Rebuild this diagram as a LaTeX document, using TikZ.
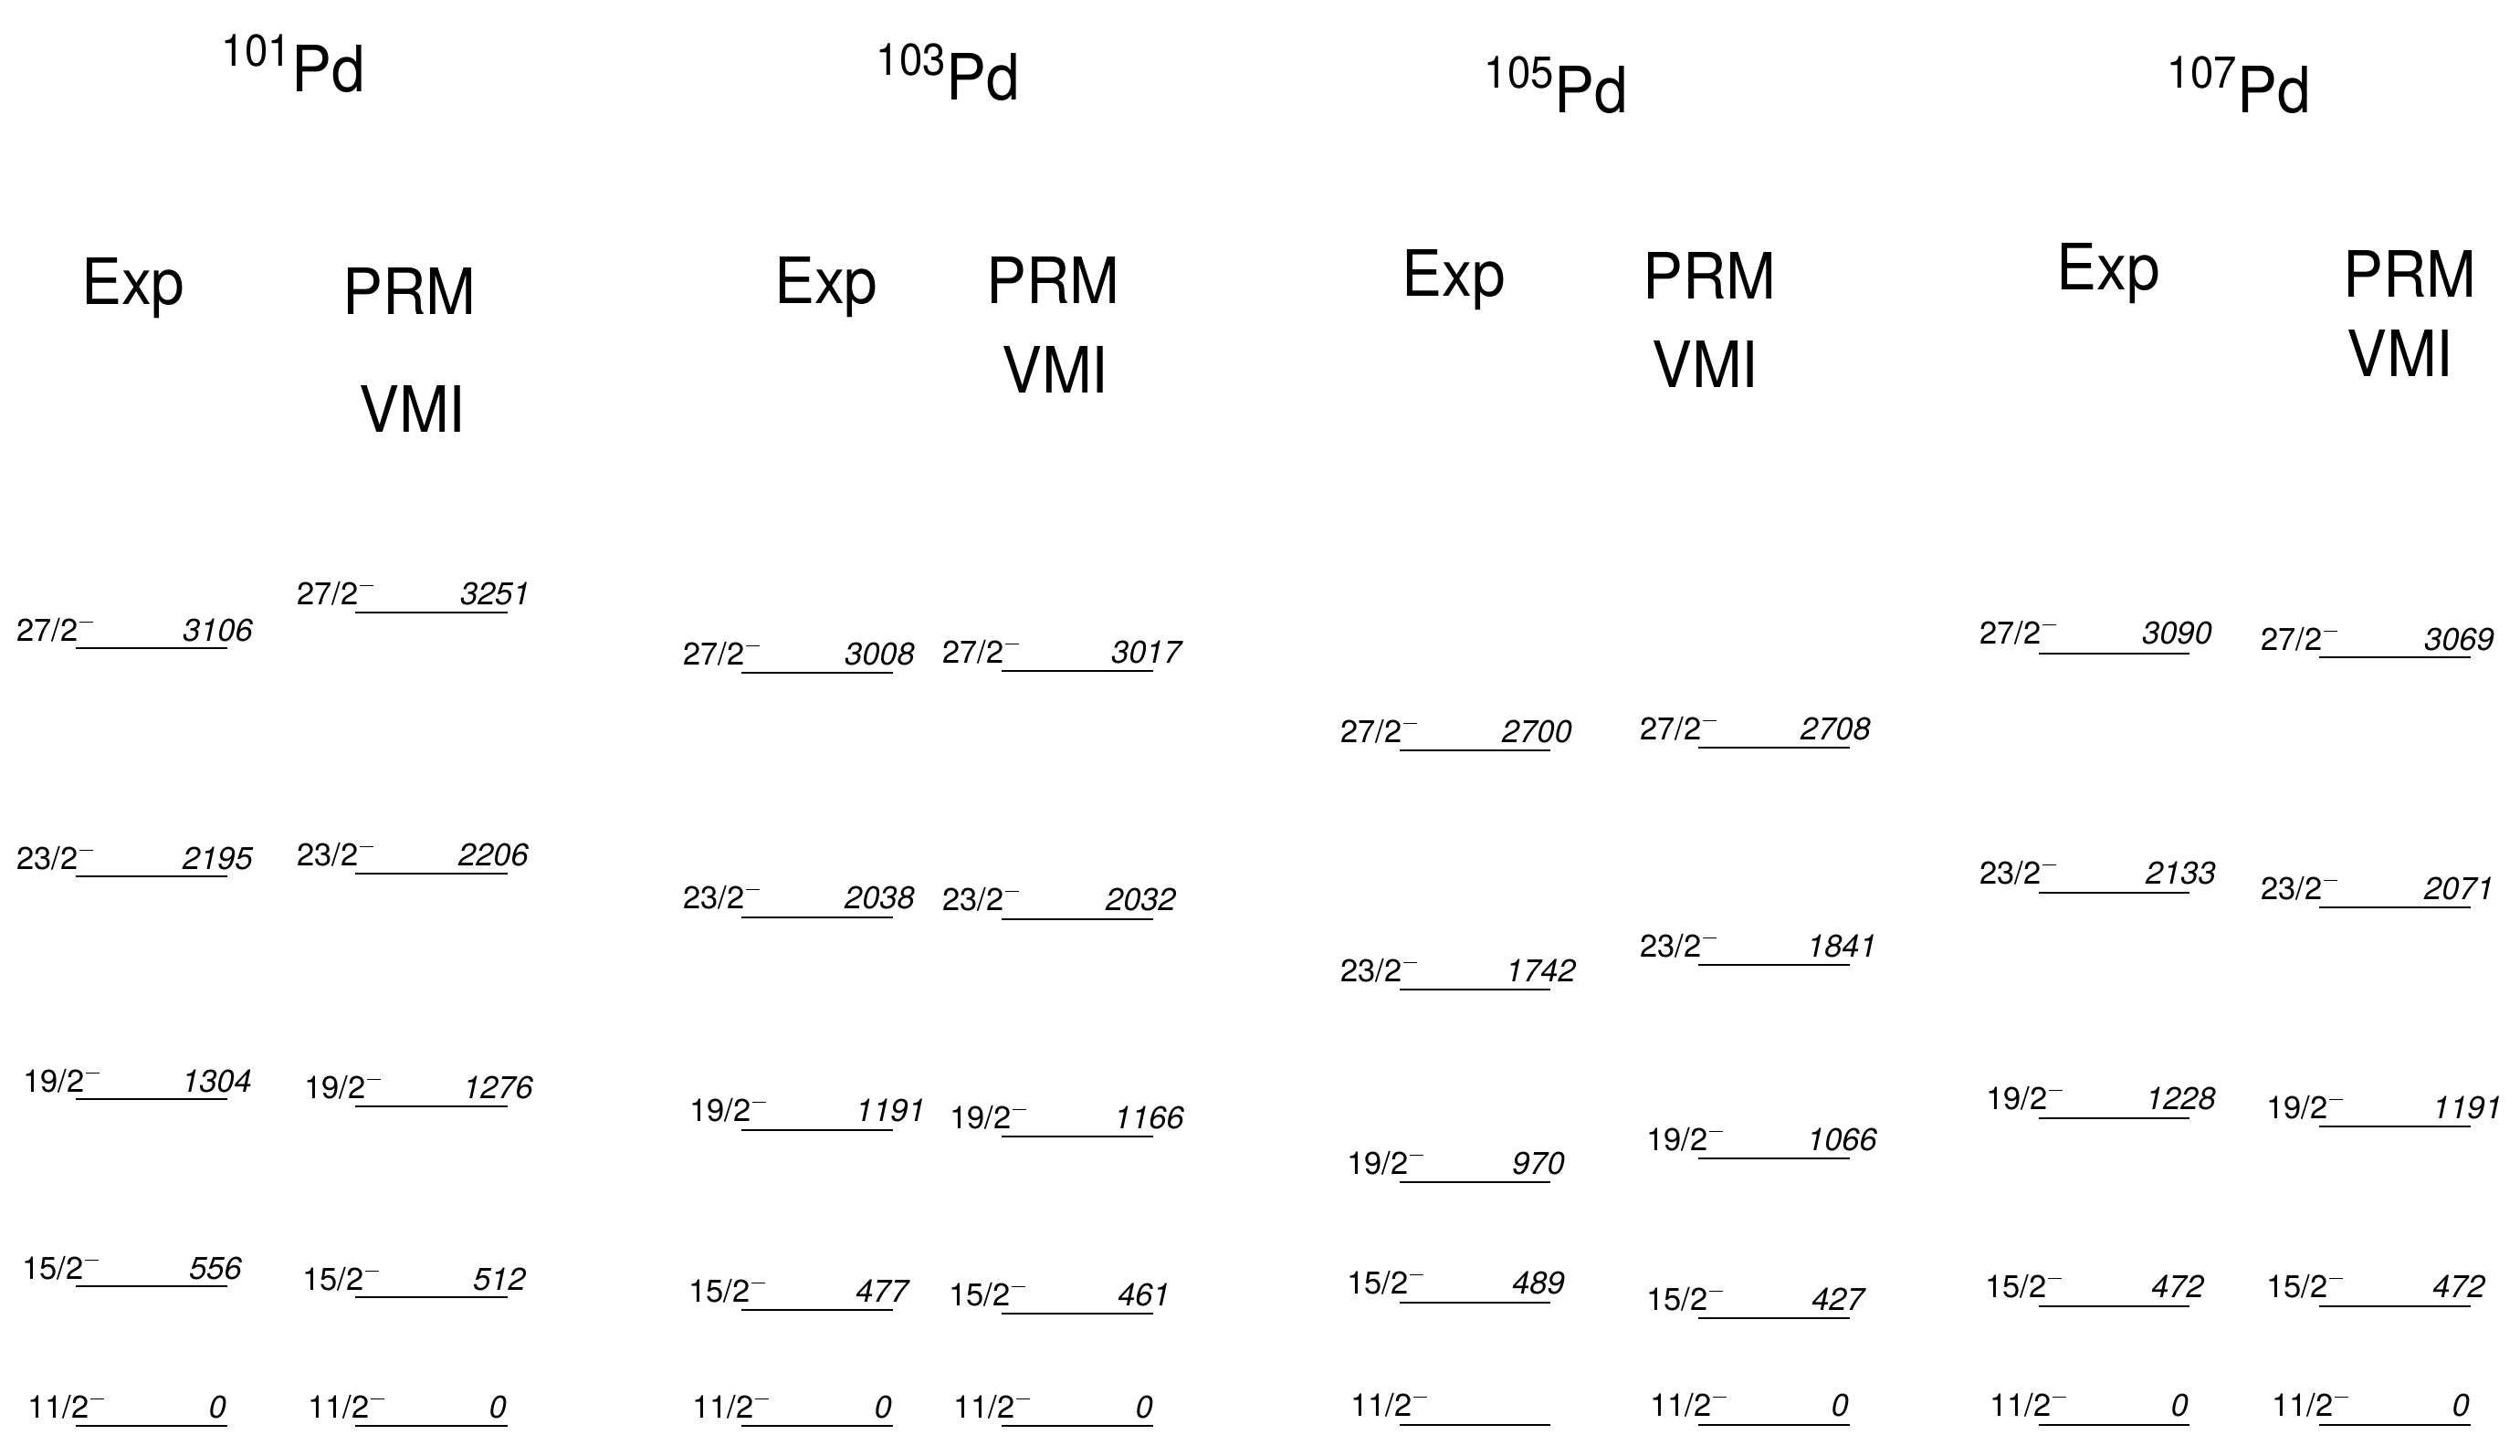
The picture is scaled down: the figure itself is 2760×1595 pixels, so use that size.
\documentclass[tikz,border=0pt]{standalone}
\usepackage{fontspec}
\setmainfont{TeX Gyre Heros}
\begin{document}
\begin{tikzpicture}[x=1pt,y=-1pt,
  levelline/.style={draw=black,line width=1.3pt},
  spinlbl/.style={anchor=base west,inner sep=0pt,font=\fontsize{34.5}{40}\selectfont},
  enlbl/.style={anchor=base east,inner sep=0pt,font=\fontsize{34.5}{40}\selectfont\itshape},
  hdr/.style={anchor=base west,inner sep=0pt,font=\fontsize{70}{80}\selectfont},
  supl/.style={anchor=base east,inner sep=0pt,font=\fontsize{49}{54}\selectfont}]
\newcommand\spinminus{\hspace{2pt}\rule[20pt]{15pt}{1.2pt}}
\newcommand\hdrtxt[1]{\scalebox{0.94}[1]{#1}}
\newcommand\suptxt[1]{\scalebox{0.93}[1]{#1}}
\newcommand\drawlevel[9]{%
  \coordinate (#1a) at (#2,#4);
  \coordinate (#1b) at (#3,#4);
  \draw[levelline] (#1a) -- (#1b);
  \node[spinlbl] (#1s) at (#6,#7) {#5\spinminus};
  \node[enlbl] (#1e) at (#9,#7) {#8};
}
\useasboundingbox (0,0) rectangle (2760,1595);
\fill[white] (0,0) rectangle (2760,1595);
% headers
\node[hdr] (p101) at (319,100) {\hdrtxt{Pd}};
\node[supl] (s101) at (p101.base west) [yshift=27pt] {\suptxt{101}};
\node[hdr] (p103) at (1036,109) {\hdrtxt{Pd}};
\node[supl] (s103) at (p103.base west) [yshift=27pt] {\suptxt{103}};
\node[hdr] (p105) at (1702,123) {\hdrtxt{Pd}};
\node[supl] (s105) at (p105.base west) [yshift=27pt] {\suptxt{105}};
\node[hdr] (p107) at (2450,123) {\hdrtxt{Pd}};
\node[supl] (s107) at (p107.base west) [yshift=27pt] {\suptxt{107}};
\node[hdr] (exp1) at (89,333) {\hdrtxt{Exp}};
\node[hdr] (prm1) at (375,344) {\hdrtxt{PRM}};
\node[hdr] (vmi1) at (393,473) {\hdrtxt{VMI}};
\node[hdr] (exp2) at (848,332) {\hdrtxt{Exp}};
\node[hdr] (prm2) at (1080,332) {\hdrtxt{PRM}};
\node[hdr] (vmi2) at (1097,430) {\hdrtxt{VMI}};
\node[hdr] (exp3) at (1535,324) {\hdrtxt{Exp}};
\node[hdr] (prm3) at (1799,327) {\hdrtxt{PRM}};
\node[hdr] (vmi3) at (1809,424) {\hdrtxt{VMI}};
\node[hdr] (exp4) at (2252,317) {\hdrtxt{Exp}};
\node[hdr] (prm4) at (2566,325) {\hdrtxt{PRM}};
\node[hdr] (vmi4) at (2570,412) {\hdrtxt{VMI}};
% column 1 Exp
\drawlevel{aEa}{83}{249}{710}{27/2}{18}{702}{3106}{277}
\drawlevel{aEb}{83}{249}{960}{23/2}{18}{952}{2195}{277}
\drawlevel{aEc}{83}{249}{1204}{19/2}{25}{1196}{1304}{276}
\drawlevel{aEd}{83}{249}{1409}{15/2}{24}{1401}{556}{265}
\drawlevel{aEe}{83}{249}{1562}{11/2}{30}{1553}{0}{248}
% column 1 PRM
\drawlevel{aPa}{389}{556}{671}{27/2}{325}{662}{3251}{581}
\drawlevel{aPb}{389}{556}{957}{23/2}{325}{948}{2206}{579}
\drawlevel{aPc}{389}{556}{1212}{19/2}{333}{1203}{1276}{584}
\drawlevel{aPd}{389}{556}{1421}{15/2}{331}{1413}{512}{576}
\drawlevel{aPe}{389}{556}{1562}{11/2}{337}{1553}{0}{555}
% column 2 Exp
\drawlevel{bEa}{812}{978}{737}{27/2}{748}{728}{3008}{1002}
\drawlevel{bEb}{812}{978}{1005}{23/2}{748}{995}{2038}{1002}
\drawlevel{bEc}{812}{978}{1238}{19/2}{755}{1228}{1191}{1014}
\drawlevel{bEd}{812}{978}{1435}{15/2}{754}{1426}{477}{995}
\drawlevel{bEe}{812}{978}{1562}{11/2}{758}{1553}{0}{977}
% column 2 PRM
\drawlevel{bPa}{1097}{1263}{735}{27/2}{1032}{726}{3017}{1294}
\drawlevel{bPb}{1097}{1263}{1007}{23/2}{1032}{997}{2032}{1288}
\drawlevel{bPc}{1097}{1263}{1245}{19/2}{1040}{1236}{1166}{1297}
\drawlevel{bPd}{1097}{1263}{1439}{15/2}{1039}{1430}{461}{1282}
\drawlevel{bPe}{1097}{1263}{1562}{11/2}{1044}{1553}{0}{1263}
% column 3 Exp
\drawlevel{cEa}{1533}{1698}{822}{27/2}{1468}{813}{2700}{1722}
\drawlevel{cEb}{1533}{1698}{1084}{23/2}{1468}{1075}{1742}{1726}
\drawlevel{cEc}{1533}{1698}{1295}{19/2}{1475}{1286}{970}{1714}
\drawlevel{cEd}{1533}{1698}{1427}{15/2}{1475}{1417}{489}{1714}
\drawlevel{cEe}{1533}{1698}{1561}{11/2}{1479}{1551}{}{1698}
% column 3 PRM
\drawlevel{cPa}{1860}{2026}{819}{27/2}{1796}{810}{2708}{2049}
\drawlevel{cPb}{1860}{2026}{1057}{23/2}{1796}{1048}{1841}{2056}
\drawlevel{cPc}{1860}{2026}{1269}{19/2}{1803}{1260}{1066}{2056}
\drawlevel{cPd}{1860}{2026}{1444}{15/2}{1803}{1435}{427}{2042}
\drawlevel{cPe}{1860}{2026}{1561}{11/2}{1807}{1551}{0}{2025}
% column 4 Exp
\drawlevel{dEa}{2233}{2398}{716}{27/2}{2168}{705}{3090}{2423}
\drawlevel{dEb}{2233}{2398}{978}{23/2}{2168}{968}{2133}{2427}
\drawlevel{dEc}{2233}{2398}{1225}{19/2}{2175}{1215}{1228}{2427}
\drawlevel{dEd}{2233}{2398}{1431}{15/2}{2174}{1421}{472}{2414}
\drawlevel{dEe}{2233}{2398}{1561}{11/2}{2179}{1551}{0}{2397}
% column 4 PRM
\drawlevel{dPa}{2540}{2706}{720}{27/2}{2476}{712}{3069}{2732}
\drawlevel{dPb}{2540}{2706}{994}{23/2}{2476}{985}{2071}{2732}
\drawlevel{dPc}{2540}{2706}{1234}{19/2}{2482}{1225}{1191}{2741}
\drawlevel{dPd}{2540}{2706}{1431}{15/2}{2482}{1421}{472}{2722}
\drawlevel{dPe}{2540}{2706}{1561}{11/2}{2488}{1551}{0}{2705}
\end{tikzpicture}
\end{document}
